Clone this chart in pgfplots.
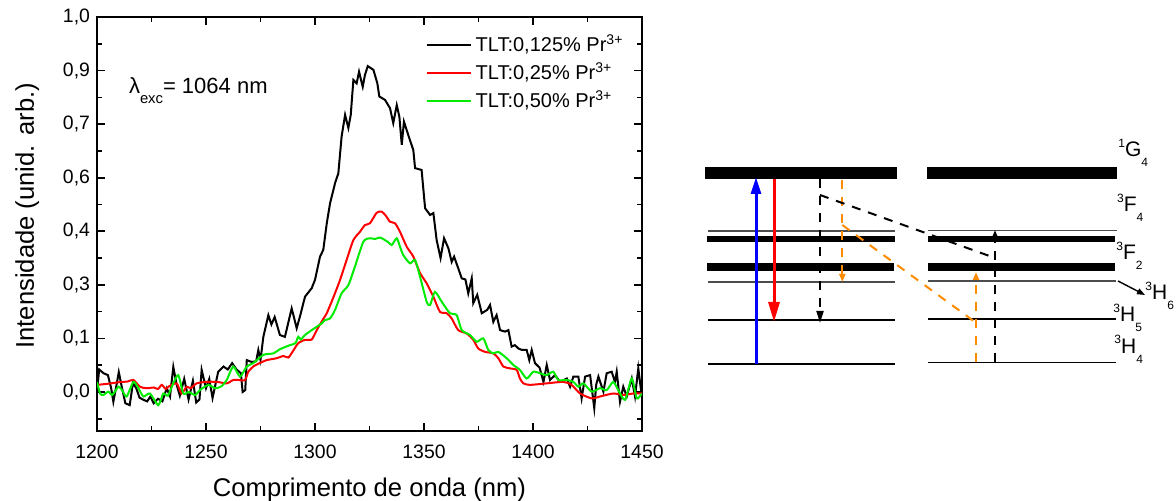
\documentclass[border=0pt]{standalone}
\usepackage{pgfplots}
\pgfplotsset{compat=1.18}
\usepackage{fontspec}
\setmainfont{Liberation Sans}
\usetikzlibrary{arrows.meta}
\definecolor{myred}{RGB}{255,0,0}
\definecolor{mygreen}{RGB}{0,235,0}
\definecolor{myorange}{RGB}{255,140,0}
\newcommand{\lvl}[3]{\raisebox{4.8pt}{\fontsize{6}{6}\selectfont #1}#2\raisebox{-5pt}{\fontsize{6}{6}\selectfont #3}}

\pgfplotstableread{
x y
1200 0.000
1201 0.060
1203 0.050
1205 0.045
1206.5 0.010
1207.5 -0.026
1209 0.020
1210 0.053
1211.5 0.010
1213 -0.030
1215 -0.035
1216.5 0.024
1218 0.010
1219.5 -0.015
1221 -0.020
1223 -0.025
1224.5 -0.012
1226 -0.030
1228 -0.018
1230 -0.025
1232 0.010
1233.5 -0.012
1235 0.067
1236.5 0.020
1238 -0.010
1240 0.035
1242 -0.020
1244 0.030
1245.5 -0.028
1247 -0.020
1248 0.059
1250 0.010
1251.5 0.035
1253 -0.016
1255.6 0.054
1258 0.068
1260 0.060
1262 0.077
1264 0.060
1266 0.050
1266.8 0.000
1268 0.005
1268.7 0.085
1271 0.080
1273 0.082
1274 0.112
1275 0.085
1276.3 0.147
1278.6 0.205
1280 0.180
1281.5 0.200
1283.9 0.152
1286.2 0.147
1289.3 0.223
1291.6 0.170
1293.5 0.210
1295.4 0.254
1298.5 0.277
1300 0.299
1302.3 0.361
1303.8 0.379
1305.4 0.450
1306.9 0.503
1309.2 0.557
1310.7 0.583
1312.2 0.681
1313.8 0.739
1315.3 0.704
1316.4 0.739
1317.6 0.832
1319.1 0.823
1320.2 0.854
1321.9 0.814
1322.9 0.845
1324.2 0.869
1326.8 0.859
1328.6 0.823
1329.5 0.788
1332.1 0.779
1334.4 0.757
1335.9 0.717
1337.5 0.765
1338.7 0.734
1339.8 0.659
1340.8 0.721
1342.8 0.685
1345.1 0.645
1345.9 0.597
1348.9 0.592
1350.5 0.490
1352.8 0.472
1354.3 0.477
1355.8 0.405
1357.6 0.357
1359.2 0.410
1361.2 0.383
1362.7 0.347
1363.8 0.361
1365.7 0.330
1367.3 0.303
1369 0.300
1370.3 0.263
1371.9 0.303
1372.6 0.237
1374.4 0.259
1376.5 0.210
1379.0 0.219
1380.3 0.232
1381.8 0.187
1383.3 0.205
1384.9 0.165
1387.2 0.161
1388.7 0.165
1390.2 0.121
1391.7 0.125
1393.3 0.116
1395 0.112
1397.1 0.112
1398.3 0.085
1399.4 0.112
1400.9 0.077
1403 0.065
1404.8 0.027
1406.3 0.072
1407.8 0.032
1410.1 0.045
1412.4 0.027
1415.5 0.036
1417.0 0.014
1418.5 0.041
1420.8 0.041
1422.3 -0.017
1423.9 0.041
1426.2 0.045
1428.1 -0.043
1429 0.020
1430.0 0.041
1432.3 0.001
1433.8 0.050
1436.1 0.054
1437.6 0.027
1438.4 0.054
1439.9 -0.026
1441.4 0.014
1443.0 -0.012
1445.3 0.036
1446.8 -0.012
1448.3 0.063
1449.9 -0.012
}\blackdata

\pgfplotstableread{
x y
1200 0.019
1205 0.022
1210 0.026
1214 0.028
1216.7 0.032
1219.7 0.014
1222.8 0.010
1226 0.012
1228 0.008
1229.7 0.019
1231.5 0.008
1233 0.015
1236.5 0.023
1238.8 -0.004
1241.1 0.014
1243 0.010
1245.7 0.023
1250.3 0.027
1255 0.027
1259.5 0.023
1262.5 0.032
1265 0.032
1267.9 0.032
1269.4 0.054
1271.7 0.068
1275 0.078
1277.8 0.085
1282.4 0.090
1285.5 0.096
1287.8 0.092
1290 0.110
1292.3 0.130
1295.4 0.139
1298.5 0.140
1300.8 0.165
1303.8 0.195
1305.4 0.210
1308.4 0.252
1311.5 0.299
1314.5 0.352
1317.6 0.405
1320.6 0.427
1322.9 0.445
1325.2 0.450
1328.3 0.478
1330.6 0.481
1332.5 0.470
1334.4 0.454
1336.7 0.450
1339 0.427
1342.1 0.387
1345.1 0.361
1348.2 0.317
1351.2 0.290
1354.3 0.254
1357.3 0.214
1360.4 0.210
1362.7 0.196
1365.7 0.165
1369.6 0.156
1372.6 0.139
1374.9 0.116
1378 0.107
1381.8 0.103
1384.1 0.090
1386.4 0.068
1389.4 0.063
1392.5 0.059
1394 0.036
1395.6 0.023
1398.6 0.019
1406.3 0.023
1413.9 0.027
1417.7 0.019
1421.6 -0.004
1426.9 -0.017
1430.7 -0.012
1436.8 -0.004
1441.4 -0.008
1446 -0.004
1450 -0.004
}\reddata

\pgfplotstableread{
x y
1200 0.027
1201.4 -0.004
1202.9 -0.008
1205.2 0.001
1207 -0.008
1209.8 0.014
1211.5 0.005
1213.6 -0.012
1216.7 0.027
1219 0.010
1221.3 -0.012
1224.3 -0.004
1228.1 -0.035
1230.4 -0.004
1232.5 -0.010
1235 0.023
1237.3 0.045
1239.6 -0.004
1242 0.000
1245 -0.008
1247.2 0.005
1251.1 0.019
1254.1 0.010
1257 0.015
1259.5 0.032
1262.5 0.068
1265.6 0.041
1268.7 0.068
1271.7 0.077
1276.3 0.099
1280.9 0.103
1283.9 0.114
1288.5 0.125
1291 0.130
1292.3 0.147
1293.5 0.140
1295.4 0.152
1298.5 0.165
1303.1 0.183
1304.6 0.192
1306.9 0.196
1309.2 0.219
1312.2 0.263
1315.3 0.285
1318.3 0.334
1322.2 0.401
1325.2 0.410
1327.5 0.408
1329.8 0.412
1332.1 0.405
1333.5 0.400
1335.2 0.392
1337.5 0.410
1339 0.387
1340.5 0.365
1343.6 0.343
1345.9 0.352
1348.2 0.307
1351.2 0.241
1352.8 0.232
1355 0.267
1358.1 0.241
1361.9 0.210
1365 0.205
1367.3 0.165
1371.1 0.152
1374.2 0.134
1377.2 0.143
1379.5 0.112
1381.8 0.103
1384.1 0.107
1387.9 0.090
1391 0.072
1394 0.059
1397.1 0.036
1400.1 0.054
1403.2 0.050
1406.3 0.045
1409.3 0.054
1411.6 0.032
1415.5 0.032
1418.5 0.027
1420.8 0.014
1423.1 0.023
1426.9 0.001
1430.7 0.010
1433.8 0.005
1436.8 0.027
1439.1 0.005
1442.2 -0.021
1445.3 0.036
1447.6 -0.017
1449.9 -0.004
}\greendata

\begin{document}
\begin{tikzpicture}
\useasboundingbox (0,0) rectangle (588pt,250.5pt);
\begin{axis}[
  at={(48.5pt,35pt)}, anchor=south west,
  scale only axis, width=272.5pt, height=207pt,
  xmin=1200, xmax=1450, ymin=-0.104, ymax=1.0,
  xtick={1200,1250,...,1450},
  minor xtick={1225,1275,...,1425},
  ytick={0,0.142857,0.285714,0.428571,0.571429,0.714286,0.857143,1.0},
  yticklabels={{0,0},{0,1},{0,3},{0,4},{0,6},{0,7},{0,9},{1,0}},
  minor ytick={-0.071429,0.071429,0.214286,0.357143,0.5,0.642857,0.785714,0.928571},
  /pgf/number format/assume math mode=true,
  /pgf/number format/1000 sep={},
  tick label style={font=\fontsize{9.7}{11}\selectfont},
  xticklabel style={yshift=-3.5pt},
  label style={font=\fontsize{12.8}{14}\selectfont},
  xlabel={Comprimento de onda (nm)},
  ylabel={Intensidade (unid. arb.)},
  xlabel style={yshift=-2.5pt},
  ylabel style={at={(ticklabel cs:0.52)}},
  ylabel shift=5pt,
  tick align=inside,
  major tick length=4pt, minor tick length=2.5pt,
  axis line style={line width=1pt},
  every tick/.style={line width=0.8pt, black},
  legend style={draw=none, fill=none, font=\fontsize{10}{12}\selectfont,
    at={(0.985,0.978)}, anchor=north east, row sep=0pt},
  legend cell align=left,
  legend image code/.code={\draw[#1] (0pt,0pt) -- (22pt,0pt);},
]
\addplot[black, line width=1pt] table {\blackdata};
\addlegendentry{TLT:0,125\% Pr\textsuperscript{3+}}
\addplot[myred, line width=1pt, smooth, tension=0.4] table {\reddata};
\addlegendentry{TLT:0,25\% Pr\textsuperscript{3+}}
\addplot[mygreen, line width=1pt, smooth, tension=0.4] table {\greendata};
\addlegendentry{TLT:0,50\% Pr\textsuperscript{3+}}
\node[anchor=base west, inner sep=0pt, font=\fontsize{11}{12}\selectfont] at (axis cs:1214.5,0.797) {λ\raisebox{-5pt}{\fontsize{7.4}{8}\selectfont exc}= 1064 nm};
\end{axis}

\begin{axis}[
  at={(350pt,40.5pt)}, anchor=south west,
  scale only axis, width=238pt, height=160pt,
  xmin=700, xmax=1176, ymin=100, ymax=420, y dir=reverse,
  hide axis, clip=false,
]
% levels, left column
\addplot[black, line width=6pt] coordinates {(705,173.5) (897,173.5)};
\addplot[black!70, line width=0.6pt] coordinates {(708,231) (895,231)};
\addplot[black, line width=3pt] coordinates {(707,239.5) (895,239.5)};
\addplot[black, line width=4pt] coordinates {(707,267.5) (894,267.5)};
\addplot[black!70, line width=0.6pt] coordinates {(708,282) (895,282)};
\addplot[black, line width=0.6pt] coordinates {(708,320) (895,320)};
\addplot[black, line width=0.6pt] coordinates {(708,364) (895,364)};
% levels, right column
\addplot[black, line width=6pt] coordinates {(927,173.5) (1117,173.5)};
\addplot[black!70, line width=0.6pt] coordinates {(928,230.5) (1117,230.5)};
\addplot[black, line width=3pt] coordinates {(928,239.5) (1115,239.5)};
\addplot[black, line width=4pt] coordinates {(928,267.5) (1115,267.5)};
\addplot[black!70, line width=0.6pt] coordinates {(928,281) (1116,281)};
\addplot[black, line width=0.6pt] coordinates {(928,319) (1116,319)};
\addplot[black, line width=0.6pt] coordinates {(928,362.5) (1116,362.5)};
% transitions, left column
\addplot[blue, line width=1.5pt, -{Triangle[length=8.5pt,width=5pt]}] coordinates {(756,364) (756,177)};
\addplot[myred, line width=1.5pt, -{Triangle[length=10pt,width=5.5pt]}] coordinates {(774,179) (774,322)};
\addplot[black, line width=1pt, dash pattern=on 4.5pt off 4pt, -{Triangle[length=6pt,width=3.5pt]}] coordinates {(820,179) (820,323)};
\addplot[myorange, line width=1pt, dash pattern=on 4.5pt off 4pt, -{Triangle[length=4pt,width=3pt]}] coordinates {(842.3,180) (842.3,282)};
\addplot[black, line width=1pt, dash pattern=on 4.5pt off 4pt] coordinates {(820,195) (995,258)};
\addplot[myorange, line width=1pt, dash pattern=on 4.5pt off 4pt] coordinates {(842.3,225) (975,322)};
% transitions, right column
\addplot[black, line width=1pt, dash pattern=on 4.5pt off 4pt, -{Triangle[length=3.5pt,width=2.5pt]}] coordinates {(995,362) (995,230)};
\addplot[myorange, line width=1pt, dash pattern=on 4.5pt off 4pt, -{Triangle[length=4pt,width=3pt]}] coordinates {(976,362) (976,272)};
\addplot[black, line width=0.7pt, -{Triangle[length=4pt,width=3pt]}] coordinates {(1118,281) (1145,295)};
% labels
\begin{scope}[every node/.style={anchor=base west, inner sep=0pt, font=\fontsize{10.5}{12}\selectfont}]
\node at (axis cs:1118,156.7) {\lvl{1}{G}{4}};
\node at (axis cs:1116.7,211.7) {\lvl{3}{F}{4}};
\node at (axis cs:1116,260) {\lvl{3}{F}{2}};
\node at (axis cs:1145,300) {\lvl{3}{H}{6}};
\node at (axis cs:1113,321.7) {\lvl{3}{H}{5}};
\node at (axis cs:1114,353.3) {\lvl{3}{H}{4}};
\end{scope}
\end{axis}
\end{tikzpicture}
\end{document}
